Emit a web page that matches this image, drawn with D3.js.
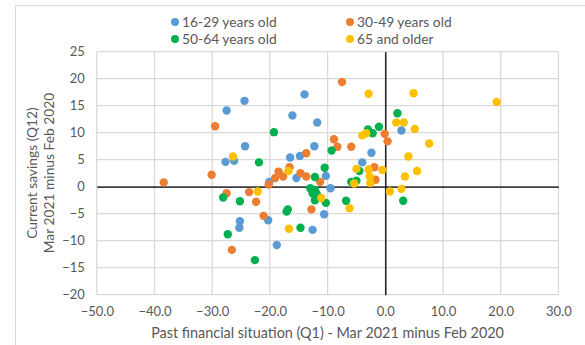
<!DOCTYPE html>
<html>
<head>
<meta charset="utf-8">
<script src="https://cdn.jsdelivr.net/npm/d3@7/dist/d3.min.js"></script>
<style>
  html, body { margin: 0; padding: 0; background: #fff; }
  svg { display: block; }
  text { font-family: Lato, "Open Sans", sans-serif; fill: #595959; }
</style>
</head>
<body>
<svg id="chart" width="585" height="345"></svg>
<script>
// Change between Feb 2020 and Mar 2021, by age group: [past financial situation (Q1), current savings (Q12)]
const youngAdults = [
  [-27.5, 14.1], [-24.4, 15.9], [-14.0, 17.1], [-16.1, 13.2], [-11.8, 11.9],
  [-27.7, 4.6], [-26.2, 4.8], [-24.3, 7.5], [-12.3, 7.5], [-16.5, 5.4],
  [-14.8, 5.7], [-2.4, 6.3], [-4.0, 4.5], [2.8, 10.4], [-15.4, 1.6],
  [-10.3, 2.0], [-9.5, -0.3], [-20.1, 0.9], [-25.2, -6.4], [-25.3, -7.6],
  [-20.3, -6.2], [-10.6, -5.1], [-12.6, -8.0], [-18.8, -10.8]
];
const midAdults = [
  [-29.5, 11.2], [-30.1, 2.2], [-38.4, 0.8], [-27.5, -1.2], [-26.6, -11.7],
  [-7.5, 19.4], [-8.9, 8.8], [-8.3, 7.4], [-5.9, 7.4], [-13.7, 6.2],
  [-0.1, 9.8], [0.4, 8.4], [-1.9, 3.6], [-1.7, 1.3], [-16.6, 3.6],
  [-18.5, 2.8], [-19.1, 1.6], [-17.7, 1.9], [-14.7, 2.5], [-13.7, 1.9],
  [-11.3, 0.9], [-20.2, 0.4], [-23.6, -1.0], [-22.4, -2.8], [-21.1, -5.4],
  [-12.8, -4.2]
];
const olderAdults = [
  [-28.1, -2.0], [-25.2, -2.7], [-27.3, -8.8], [-22.6, -13.6], [-19.3, 10.1],
  [-21.9, 4.5], [2.1, 13.6], [-3.0, 10.6], [-2.2, 9.9], [-1.1, 11.1],
  [-9.3, 6.7], [-10.5, 3.5], [-4.5, 2.9], [-12.2, 1.8], [-5.9, 0.9],
  [-5.0, 1.1], [-13.0, -0.3], [-12.2, -0.6], [-12.6, -1.2], [-11.9, -1.3],
  [-12.2, -2.5], [-10.3, -3.0], [-6.8, -2.6], [3.1, -2.6], [-16.9, -4.2],
  [-17.1, -4.6], [-14.7, -7.6]
];
const seniors = [
  [-26.4, 5.6], [-2.9, 17.2], [4.9, 17.3], [19.3, 15.7], [1.9, 11.9],
  [3.2, 11.9], [5.1, 10.7], [7.6, 8.0], [4.0, 5.6], [5.5, 2.9],
  [3.4, 1.9], [2.8, -0.4], [0.8, -0.9], [-4.0, 9.5], [-3.3, 9.9],
  [-5.0, 3.3], [-2.9, 3.2], [-0.5, 3.1], [-2.7, 1.9], [-2.6, 0.7],
  [-5.4, 0.6], [-16.8, 2.9], [-22.1, -0.9], [-11.1, -2.1], [-6.2, -4.0],
  [-16.7, -7.8]
];

const seriesNames = ["16-29 years old", "30-49 years old", "50-64 years old", "65 and older"];
const seriesData = [youngAdults, midAdults, olderAdults, seniors];
const seriesColors = ["#5B9BD5", "#ED7D31", "#00B050", "#FFC000"];

const xTicks = [-50, -40, -30, -20, -10, 0, 10, 20, 30];
const yTicks = [-20, -15, -10, -5, 0, 5, 10, 15, 20, 25];

const xTitle = "Past financial situation (Q1) - Mar 2021 minus Feb 2020";
const yTitleLines = ["Current savings (Q12)", "Mar 2021 minus Feb 2020"];

const svg = d3.select("#chart");

// chart area frame
svg.append("rect")
  .attr("x", 15.5).attr("y", 5.5)
  .attr("width", 600).attr("height", 400)
  .attr("fill", "none").attr("stroke", "#D9D9D9").attr("stroke-width", 1);

const plot = { left: 96.8, right: 558.4, top: 51.7, bottom: 294.7 };

const x = d3.scaleLinear().domain([-50, 30]).range([plot.left, plot.right]);
const y = d3.scaleLinear().domain([-20, 25]).range([plot.bottom, plot.top]);

// gridlines
const grid = svg.append("g").attr("stroke", "#D9D9D9").attr("stroke-width", 1.3);
grid.selectAll("line.v").data(xTicks).join("line")
  .attr("x1", d => x(d)).attr("x2", d => x(d))
  .attr("y1", plot.top).attr("y2", plot.bottom);
grid.selectAll("line.h").data(yTicks).join("line")
  .attr("y1", d => y(d)).attr("y2", d => y(d))
  .attr("x1", plot.left).attr("x2", plot.right);

// axes through the origin
const xAxisLine = d3.axisBottom(x).tickValues([]).tickSize(0);
svg.append("g").attr("transform", `translate(0,${y(0)})`).call(xAxisLine)
  .call(g => g.select(".domain").attr("stroke", "#000").attr("stroke-width", 1.3));
const yAxisLine = d3.axisLeft(y).tickValues([]).tickSize(0);
svg.append("g").attr("transform", `translate(${x(0)},0)`).call(yAxisLine)
  .call(g => g.select(".domain").attr("stroke", "#000").attr("stroke-width", 1.3));

// tick labels along the plot edges
const xAxis = d3.axisBottom(x).tickValues(xTicks).tickFormat(d3.format(".1f")).tickSize(0).tickPadding(0);
svg.append("g").attr("transform", `translate(0,${plot.bottom + 12})`).call(xAxis)
  .call(g => g.select(".domain").remove())
  .call(g => g.selectAll("text").attr("font-size", 13).attr("font-family", "Lato").attr("fill", "#595959"));

const yAxis = d3.axisLeft(y).tickValues(yTicks).tickSize(0).tickPadding(0);
svg.append("g").attr("transform", `translate(${plot.left - 12},0)`).call(yAxis)
  .call(g => g.select(".domain").remove())
  .call(g => g.selectAll("text").attr("font-size", 13).attr("font-family", "Lato").attr("fill", "#595959"));

// axis titles
svg.append("text")
  .attr("x", (plot.left + plot.right) / 2).attr("y", 338)
  .attr("text-anchor", "middle").attr("font-size", 14.4)
  .text(xTitle);

svg.append("g").attr("transform", "translate(0,173) rotate(-90)")
  .selectAll("text").data(yTitleLines).join("text")
  .attr("x", 0).attr("y", (d, i) => 37 + i * 17)
  .attr("text-anchor", "middle").attr("font-size", 13.8)
  .text(d => d);

// points, one layer per age group
seriesData.forEach((pts, i) => {
  svg.append("g").selectAll("circle").data(pts).join("circle")
    .attr("cx", d => x(d[0])).attr("cy", d => y(d[1]))
    .attr("r", 4.2).attr("fill", seriesColors[i]);
});

// legend, two columns
const legend = svg.append("g");
seriesNames.forEach((name, i) => {
  const lx = i % 2 === 0 ? 175 : 350;
  const ly = i < 2 ? 22 : 39;
  legend.append("circle").attr("cx", lx).attr("cy", ly).attr("r", 4).attr("fill", seriesColors[i]);
  legend.append("text").attr("x", lx + 7).attr("y", ly).attr("dy", "0.35em")
    .attr("font-size", 13.8).text(name);
});
</script>
</body>
</html>
